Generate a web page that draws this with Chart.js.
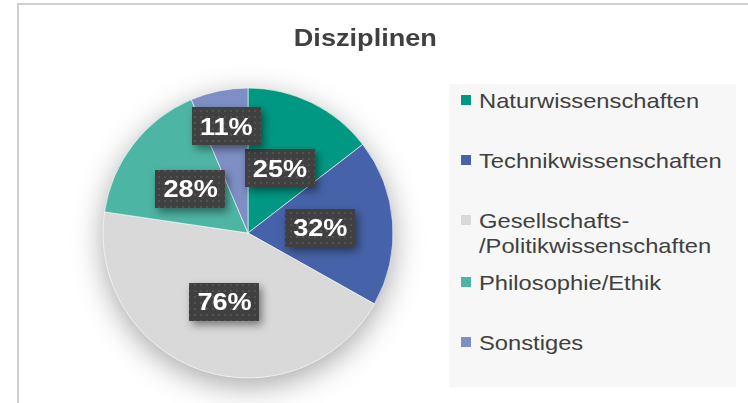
<!DOCTYPE html>
<html lang="de">
<head>
    <meta charset="UTF-8">
    <title>Disziplinen</title>
    <script src="https://cdn.jsdelivr.net/npm/chart.js"></script>
    <style>
        body {
            margin: 0;
            background: #fff;
            font-family: 'Liberation Sans', Arial, sans-serif;
            color: #404040;
        }
        .wrap {
            position: relative;
            width: 748px;
            height: 403px;
            overflow: hidden;
        }
        .frame {
            position: absolute;
            left: 17px;
            top: 3px;
            right: -10px;
            bottom: -10px;
            border-top: 2px solid #d0d0d0;
            border-left: 2px solid #d0d0d0;
        }
        canvas {
            position: absolute;
            left: 0;
            top: 0;
        }
        .title {
            position: absolute;
            left: 0;
            width: 730px;
            top: 24px;
            text-align: center;
            font-weight: bold;
            font-size: 24px;
            line-height: 28px;
        }
        .title span {
            display: inline-block;
            transform: scaleX(1.13);
        }
        .legend {
            position: absolute;
            left: 449px;
            top: 84px;
            width: 287px;
            height: 303px;
            background: #f7f7f7;
        }
        .item {
            position: absolute;
            left: 12px;
            font-size: 21px;
            line-height: 25px;
            white-space: nowrap;
        }
        .item .box {
            position: absolute;
            left: 0;
            top: 7px;
            width: 10px;
            height: 10px;
        }
        .item .txt {
            position: absolute;
            left: 18px;
            top: 0;
            transform: scaleX(1.13);
            transform-origin: left top;
        }
    </style>
</head>
<body>
    <div class="wrap">
        <div class="frame"></div>
        <canvas id="chart" width="748" height="403"></canvas>
        <div class="title"><span>Disziplinen</span></div>
        <div class="legend" id="legend"></div>
    </div>

    <script>
        // Daten
        const categories = ['Naturwissenschaften', 'Technikwissenschaften', 'Gesellschafts-/Politikwissenschaften', 'Philosophie/Ethik', 'Sonstiges'];
        const shares = [25, 32, 76, 28, 11];
        const colors = ['#009882', '#4662a8', '#d9d9d9', '#4db5a4', '#7d8fc4'];

        // kleines Punktmuster fuer die Label-Kaesten
        const pat = document.createElement('canvas');
        pat.width = 6; pat.height = 6;
        const pctx = pat.getContext('2d');
        pctx.fillStyle = '#404040';
        pctx.fillRect(0, 0, 6, 6);
        pctx.fillStyle = '#525252';
        pctx.fillRect(2, 2, 2, 2);

        // Schatten unter der Torte
        const pieShadow = {
            id: 'pieShadow',
            beforeDatasetsDraw(chart) {
                const arc = chart.getDatasetMeta(0).data[0];
                const ctx = chart.ctx;
                ctx.save();
                ctx.shadowColor = 'rgba(0,0,0,0.35)';
                ctx.shadowBlur = 30;
                ctx.shadowOffsetY = 8;
                ctx.fillStyle = '#d9d9d9';
                ctx.beginPath();
                ctx.arc(arc.x, arc.y, arc.outerRadius, 0, Math.PI * 2);
                ctx.fill();
                ctx.restore();
            }
        };

        // Prozent-Labels in dunklen Kaesten
        const boxLabels = {
            id: 'boxLabels',
            afterDatasetsDraw(chart) {
                const ctx = chart.ctx;
                const meta = chart.getDatasetMeta(0);
                const data = chart.data.datasets[0].data;
                const stretch = 1.13;
                meta.data.forEach(function(arc, i) {
                    const mid = (arc.startAngle + arc.endAngle) / 2;
                    const f = (arc.endAngle - arc.startAngle) < 0.5 ? 0.75 : 0.5;
                    const r = arc.outerRadius * f;
                    const cx = arc.x + Math.cos(mid) * r;
                    const cy = arc.y + Math.sin(mid) * r;
                    const text = data[i] + '%';
                    ctx.save();
                    ctx.font = 'bold 24px "Liberation Sans", Arial, sans-serif';
                    const w = ctx.measureText(text).width * stretch + 16;
                    const h = 38;
                    ctx.shadowColor = 'rgba(0,0,0,0.45)';
                    ctx.shadowBlur = 8;
                    ctx.shadowOffsetX = 3;
                    ctx.shadowOffsetY = 4;
                    ctx.fillStyle = ctx.createPattern(pat, 'repeat');
                    ctx.fillRect(Math.round(cx - w / 2), Math.round(cy - h / 2), Math.round(w), h);
                    ctx.shadowColor = 'transparent';
                    ctx.translate(cx, cy + 8.6);
                    ctx.scale(stretch, 1);
                    ctx.fillStyle = '#ffffff';
                    ctx.textAlign = 'center';
                    ctx.textBaseline = 'alphabetic';
                    ctx.fillText(text, 0, 0);
                    ctx.restore();
                });
            }
        };

        const ctx = document.getElementById('chart').getContext('2d');
        const chart = new Chart(ctx, {
            type: 'pie',
            data: {
                labels: categories,
                datasets: [{
                    data: shares,
                    backgroundColor: colors,
                    borderColor: 'rgba(255,255,255,0.6)',
                    borderWidth: 1,
                    hoverOffset: 0
                }]
            },
            options: {
                responsive: false,
                animation: false,
                radius: 145,
                layout: {
                    padding: { left: 103, right: 355, top: 88, bottom: 25 }
                },
                plugins: {
                    legend: { display: false },
                    title: { display: false },
                    tooltip: { enabled: false }
                }
            },
            plugins: [pieShadow, boxLabels]
        });

        // Legende (rechts)
        const legendTop = [4, 64, 124, 186, 246];
        const legend = document.getElementById('legend');
        categories.forEach(function(name, i) {
            const item = document.createElement('div');
            item.className = 'item';
            item.style.top = legendTop[i] + 'px';
            item.innerHTML = '<span class="box" style="background:' + colors[i] + '"></span>' +
                '<span class="txt">' + name.replace('-/', '-<br>/') + '</span>';
            legend.appendChild(item);
        });
    </script>
</body>
</html>
